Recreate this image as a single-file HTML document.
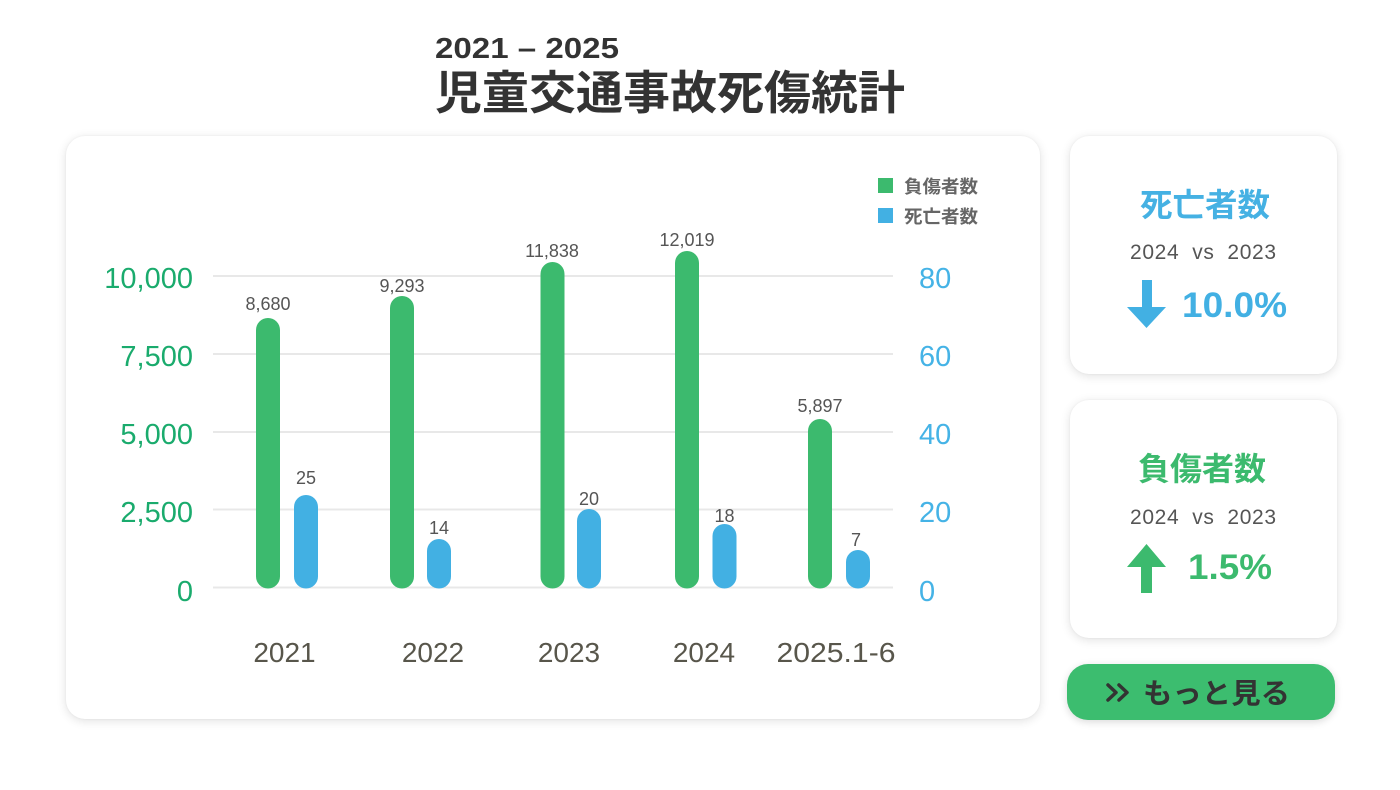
<!DOCTYPE html>
<html>
<head>
<meta charset="utf-8">
<style>
  html, body { margin:0; padding:0; background:#ffffff; }
  body { width:1400px; height:790px; position:relative; overflow:hidden;
         font-family:"Liberation Sans","Noto Sans CJK JP",sans-serif; }
  .card { position:absolute; background:#fff; border-radius:19px;
          box-shadow:0 2px 10px rgba(0,0,0,0.12), 0 0 2px rgba(0,0,0,0.05); }
  .btn { position:absolute; background:#3cbd6f; border-radius:21px;
         box-shadow:0 2px 8px rgba(0,0,0,0.15); }
  svg { position:absolute; left:0; top:0; }
</style>
</head>
<body>
<div class="card" style="left:66px;top:136px;width:974px;height:583px;"></div>
<div class="card" style="left:1070px;top:136px;width:267px;height:238px;"></div>
<div class="card" style="left:1070px;top:400px;width:267px;height:238px;"></div>
<div class="btn" style="left:1067px;top:664px;width:268px;height:56px;"></div>

<svg width="1400" height="790" viewBox="0 0 1400 790" xmlns="http://www.w3.org/2000/svg">
  <!-- Title -->
  <text x="435" y="58" font-family="Liberation Sans, sans-serif" font-weight="bold" font-size="29" fill="#333" textLength="184" lengthAdjust="spacingAndGlyphs">2021 – 2025</text>
  <text x="435" y="109" font-family="Liberation Sans, Noto Sans CJK JP, sans-serif" font-weight="bold" font-size="46" fill="#333" textLength="470" lengthAdjust="spacingAndGlyphs">児童交通事故死傷統計</text>

  <!-- Legend -->
  <rect x="878" y="178" width="15" height="15" fill="#3cba6e"/>
  <rect x="878" y="208" width="15" height="15" fill="#42b0e3"/>
  <text x="904" y="193" font-family="Liberation Sans, Noto Sans CJK JP, sans-serif" font-weight="bold" font-size="18" fill="#666" textLength="74" lengthAdjust="spacingAndGlyphs">負傷者数</text>
  <text x="904" y="223" font-family="Liberation Sans, Noto Sans CJK JP, sans-serif" font-weight="bold" font-size="18" fill="#666" textLength="74" lengthAdjust="spacingAndGlyphs">死亡者数</text>

  <!-- Gridlines -->
  <g stroke="#e8e8e8" stroke-width="2">
    <line x1="213" y1="276" x2="893" y2="276"/>
    <line x1="213" y1="354" x2="893" y2="354"/>
    <line x1="213" y1="432" x2="893" y2="432"/>
    <line x1="213" y1="509.5" x2="893" y2="509.5"/>
    <line x1="213" y1="587.5" x2="893" y2="587.5"/>
  </g>

  <!-- Left axis -->
  <g font-family="Liberation Sans, sans-serif" font-size="29" fill="#1aab6d" text-anchor="end">
    <text x="193" y="288">10,000</text>
    <text x="193" y="366">7,500</text>
    <text x="193" y="444">5,000</text>
    <text x="193" y="522">2,500</text>
    <text x="193" y="601">0</text>
  </g>
  <!-- Right axis -->
  <g font-family="Liberation Sans, sans-serif" font-size="29" fill="#45b3e6">
    <text x="919" y="288">80</text>
    <text x="919" y="366">60</text>
    <text x="919" y="444">40</text>
    <text x="919" y="522">20</text>
    <text x="919" y="601">0</text>
  </g>

  <!-- Bars -->
  <g fill="#3cba6e">
    <rect x="256" y="318" width="24" height="270.5" rx="12"/>
    <rect x="390" y="296" width="24" height="292.5" rx="12"/>
    <rect x="540.5" y="262" width="24" height="326.5" rx="12"/>
    <rect x="675" y="251" width="24" height="337.5" rx="12"/>
    <rect x="808" y="419" width="24" height="169.5" rx="12"/>
  </g>
  <g fill="#42b0e3">
    <rect x="294" y="495" width="24" height="93.5" rx="12"/>
    <rect x="427" y="539" width="24" height="49.5" rx="12"/>
    <rect x="577" y="509" width="24" height="79.5" rx="12"/>
    <rect x="712.5" y="524" width="24" height="64.5" rx="12"/>
    <rect x="846" y="550" width="24" height="38.5" rx="12"/>
  </g>

  <!-- Value labels -->
  <g font-family="Liberation Sans, sans-serif" font-size="18" fill="#555" text-anchor="middle">
    <text x="268" y="310">8,680</text>
    <text x="306" y="484">25</text>
    <text x="402" y="292">9,293</text>
    <text x="439" y="534">14</text>
    <text x="552" y="257">11,838</text>
    <text x="589" y="505">20</text>
    <text x="687" y="246">12,019</text>
    <text x="724.5" y="522">18</text>
    <text x="820" y="412">5,897</text>
    <text x="856" y="546">7</text>
  </g>

  <!-- X labels -->
  <g font-family="Liberation Sans, sans-serif" font-size="28" fill="#58564b" text-anchor="middle">
    <text x="284.5" y="662">2021</text>
    <text x="433" y="662">2022</text>
    <text x="569" y="662">2023</text>
    <text x="704" y="662">2024</text>
    <text x="836" y="662" textLength="119" lengthAdjust="spacingAndGlyphs">2025.1-6</text>
  </g>

  <!-- Card 1 -->
  <text x="1140" y="216" font-family="Liberation Sans, Noto Sans CJK JP, sans-serif" font-weight="bold" font-size="32" fill="#45b1e3" textLength="130" lengthAdjust="spacingAndGlyphs">死亡者数</text>
  <text x="1130" y="259" font-family="Liberation Sans, sans-serif" font-size="21" fill="#555" textLength="146" lengthAdjust="spacing" xml:space="preserve">2024  vs  2023</text>
  <polygon points="1142,280 1152,280 1152,307 1166,307 1146.5,328 1127,307 1142,307" fill="#42b0e3"/>
  <text x="1182" y="317" font-family="Liberation Sans, sans-serif" font-weight="bold" font-size="35" fill="#42b0e3" textLength="105" lengthAdjust="spacingAndGlyphs">10.0%</text>

  <!-- Card 2 -->
  <text x="1138" y="480" font-family="Liberation Sans, Noto Sans CJK JP, sans-serif" font-weight="bold" font-size="32" fill="#3cba6e" textLength="128" lengthAdjust="spacingAndGlyphs">負傷者数</text>
  <text x="1130" y="524" font-family="Liberation Sans, sans-serif" font-size="21" fill="#555" textLength="146" lengthAdjust="spacing" xml:space="preserve">2024  vs  2023</text>
  <polygon points="1146.5,544 1166,567 1152,567 1152,593 1141,593 1141,567 1127,567" fill="#3cba6e"/>
  <text x="1188" y="579" font-family="Liberation Sans, sans-serif" font-weight="bold" font-size="35" fill="#3cba6e" textLength="84" lengthAdjust="spacingAndGlyphs">1.5%</text>

  <!-- Button -->
  <g stroke="#333" stroke-width="3.5" fill="none" stroke-linecap="round" stroke-linejoin="round">
    <polyline points="1108,685 1116,692.5 1108,700"/>
    <polyline points="1119,685 1127,692.5 1119,700"/>
  </g>
  <text x="1143" y="703" font-family="Liberation Sans, Noto Sans CJK JP, sans-serif" font-weight="bold" font-size="28" fill="#333" textLength="147" lengthAdjust="spacingAndGlyphs">もっと見る</text>
</svg>
</body>
</html>
